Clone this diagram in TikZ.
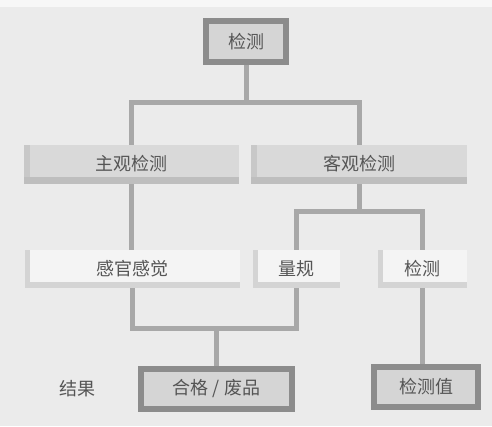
\documentclass[tikz,border=0pt]{standalone}
\usepackage{fontspec}
\newfontfamily\cjk{Noto Sans CJK SC}
\usetikzlibrary{backgrounds}
\definecolor{bgc}{HTML}{EBEBEB}
\definecolor{conc}{HTML}{A8A8A8}
\definecolor{darkb}{HTML}{8C8C8C}
\definecolor{darkf}{HTML}{D5D5D5}
\definecolor{midf}{HTML}{D9D9D9}
\definecolor{midl}{HTML}{C8C8C8}
\definecolor{midb}{HTML}{BEBEBE}
\definecolor{lightf}{HTML}{F4F4F4}
\definecolor{lights}{HTML}{D4D4D4}
\definecolor{txt}{HTML}{555555}
\tikzset{
  x=1pt, y=1pt,
  lbl/.style={font=\cjk\fontsize{18}{20}\selectfont, text=txt},
  strong/.style={lbl, draw=darkb, line width=6pt, fill=darkf, inner sep=0pt},
  cat/.style={lbl, fill=midf, inner sep=0pt, minimum height=39pt,
    path picture={
      \fill[midl] (path picture bounding box.south west) rectangle ([xshift=6pt]path picture bounding box.north west);
      \fill[midb] (path picture bounding box.south west) rectangle ([yshift=7pt]path picture bounding box.south east);
    }},
  sub/.style={lbl, fill=lightf, inner sep=0pt, minimum height=38pt,
    path picture={
      \fill[lights] (path picture bounding box.south west) rectangle ([xshift=5pt]path picture bounding box.north west);
      \fill[lights] (path picture bounding box.south west) rectangle ([yshift=6pt]path picture bounding box.south east);
    }},
  conn/.style={draw=conc, line width=5pt, line join=miter},
}
\begin{document}
\begin{tikzpicture}
\useasboundingbox (0,0) rectangle (492,426);
% nodes
\node[strong, minimum width=80pt, minimum height=41pt] (top) at (246,384.5) {检测};
\node[cat, minimum width=215pt] (subj) at (131.5,261.5) {\raisebox{3pt}{主观检测}};
\node[cat, minimum width=216pt] (obj) at (359,261.5) {\raisebox{3pt}{客观检测}};
\node[sub, minimum width=215pt] (sense) at (132.5,157) {\raisebox{2pt}{感官感觉}};
\node[sub, minimum width=87pt] (gauge) at (296.5,157) {\raisebox{2pt}{量规}};
\node[sub, minimum width=89pt] (meas) at (422.5,157) {\raisebox{2pt}{检测}};
\node[strong, minimum width=151pt, minimum height=40pt] (res1) at (216.5,37) {合格 / 废品};
\node[strong, minimum width=104pt, minimum height=40pt] (res2) at (426,39) {检测值};
\node[lbl] (reslbl) at (77,37) {结果};
\begin{scope}[on background layer]
  \fill[bgc] (0,0) rectangle (492,426);
  \fill[white!60!bgc] (0,419) rectangle (492,426);
  \coordinate (j1) at (246,323);
  \coordinate (j2) at (359,214);
  \coordinate (j3) at (216.5,98);
  \draw[conn] (top.south) -- (j1);
  \draw[conn] (j1) -| (subj.north);
  \draw[conn] (j1) -| (obj.north);
  \draw[conn] (subj.south) -- (subj.south |- sense.north);
  \draw[conn] (obj.south) -- (j2);
  \draw[conn] (j2) -| (gauge.north);
  \draw[conn] (j2) -| (meas.north);
  \draw[conn] (sense.south) |- (j3);
  \draw[conn] (gauge.south) |- (j3);
  \draw[conn] (j3) -- (res1.north);
  \draw[conn] (meas.south) -- (meas.south |- res2.north);
\end{scope}
\end{tikzpicture}
\end{document}
